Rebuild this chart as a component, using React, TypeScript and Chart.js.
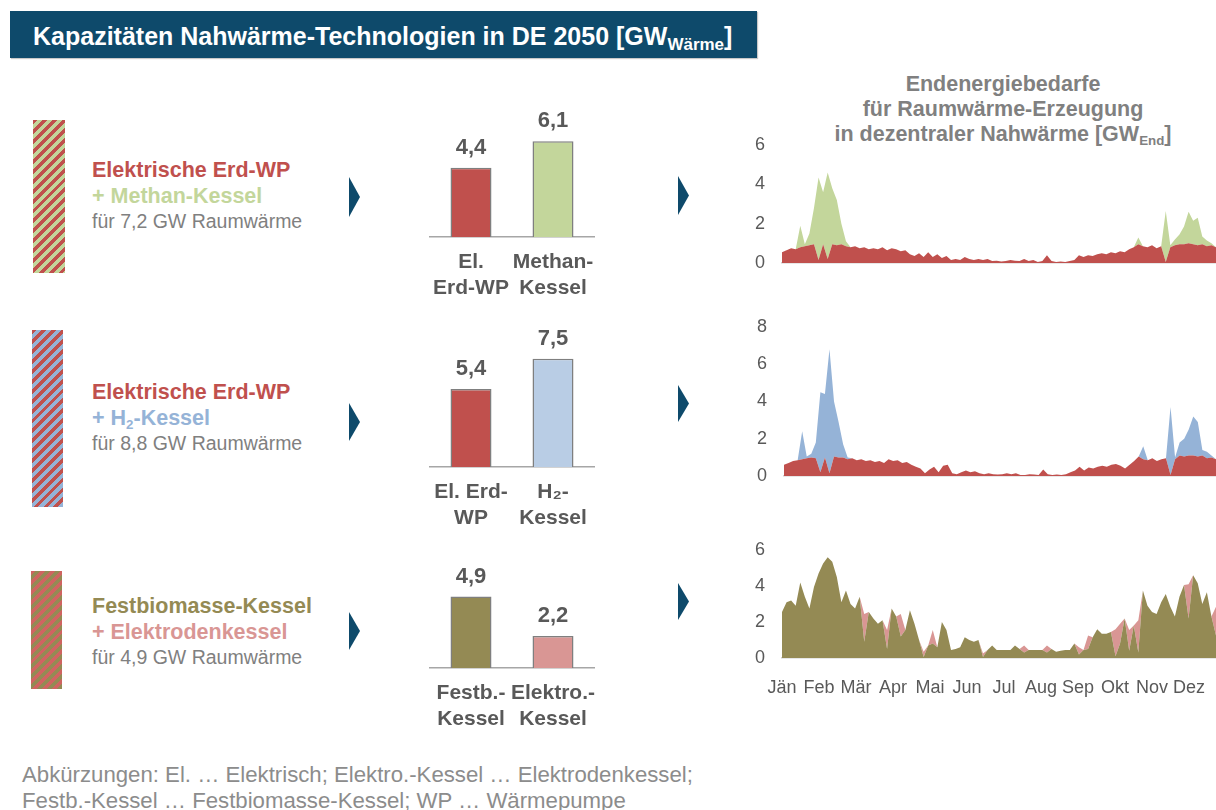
import React, { useEffect, useRef } from "react";
import { Chart, registerables } from "chart.js";

Chart.register(...registerables);

const FONT = '"Liberation Sans", Arial, Helvetica, sans-serif';

// ---------- Bar chart data ----------
const bar1Labels = [["El.", "Erd-WP"], ["Methan-", "Kessel"]];
const bar1Values = [4.4, 6.1];
const bar2Labels = [["El. Erd-", "WP"], ["H₂-", "Kessel"]];
const bar2Values = [5.4, 7.5];
const bar3Labels = [["Festb.-", "Kessel"], ["Elektro.-", "Kessel"]];
const bar3Values = [4.9, 2.2];

// ---------- Area chart data (GW, ~every 3.8 days through the year) ----------
const months = ["Jän", "Feb", "Mär", "Apr", "Mai", "Jun", "Jul", "Aug", "Sep", "Okt", "Nov", "Dez"];

const erdWp1 = [
  0.55, 0.65, 0.75, 0.7, 0.8, 0.85, 0.9, 0.95, 0.15, 0.95, 0.2, 0.95, 0.9, 0.95, 0.85, 0.8,
  0.85, 0.75, 0.8, 0.7, 0.75, 0.7, 0.8, 0.65, 0.75, 0.7, 0.6, 0.65, 0.45, 0.35, 0.5, 0.3,
  0.55, 0.3, 0.45, 0.25, 0.35, 0.15, 0.2, 0.15, 0.3, 0.2, 0.15, 0.2, 0.15, 0.2, 0.1, 0.12,
  0.08, 0.1, 0.15, 0.12, 0.1, 0.2, 0.1, 0.15, 0.05, 0.1, 0.4, 0.1, 0.05, 0.08, 0.05, 0.1,
  0.15, 0.4, 0.3, 0.4, 0.35, 0.45, 0.5, 0.45, 0.55, 0.5, 0.6, 0.55, 0.7, 0.8, 0.95, 0.85,
  0.8, 0.9, 0.75, 0.85, 0.05, 0.8, 0.9, 0.95, 0.95, 1.0, 0.95, 0.9, 0.95, 0.85, 0.9, 0.8,
];
const methan1 = [
  0, 0, 0, 0, 1.1, 0.1, 0.6, 1.85, 4.2, 2.65, 4.4, 2.85, 2.3, 1.05, 0.25, 0,
  0, 0, 0, 0, 0, 0, 0, 0, 0, 0, 0, 0, 0, 0, 0, 0,
  0, 0, 0, 0, 0, 0, 0, 0, 0, 0, 0, 0, 0, 0, 0, 0,
  0, 0, 0, 0, 0, 0, 0, 0, 0, 0, 0, 0, 0, 0, 0, 0,
  0, 0, 0, 0, 0, 0, 0, 0, 0, 0, 0, 0, 0, 0, 0.35, 0,
  0, 0, 0, 0, 2.6, 0.1, 0.3, 0.5, 0.9, 1.6, 1.2, 1.4, 0.4, 0.3, 0.1, 0,
];

const erdWp2 = [
  0.6, 0.7, 0.8, 0.85, 0.9, 0.95, 1.0, 0.95, 0.2, 1.0, 0.15, 1.05, 1.0, 1.0, 0.9, 0.95,
  0.85, 0.9, 0.8, 0.85, 0.75, 0.8, 0.7, 0.9, 0.8, 0.85, 0.7, 0.75, 0.6, 0.5, 0.4, 0.15,
  0.35, 0.5, 0.2, 0.55, 0.6, 0.15, 0.1, 0.2, 0.3, 0.2, 0.25, 0.15, 0.1, 0.15, 0.1, 0.08,
  0.1, 0.15, 0.1, 0.15, 0.05, 0.05, 0.1, 0.08, 0.05, 0.35, 0.1, 0.05, 0.08, 0.05, 0.1, 0.2,
  0.3, 0.5, 0.3, 0.45, 0.4, 0.5, 0.55, 0.5, 0.6, 0.65, 0.55, 0.4, 0.6, 0.8, 1.05, 0.9,
  0.85, 0.95, 0.8, 0.9, 0.95, 0.05, 0.9, 1.1, 1.05, 1.1, 1.1, 1.05, 1.1, 0.95, 1.0, 0.9,
];
const h2Kessel2 = [
  0, 0, 0, 0, 1.5, 0.1, 0.2, 0.85, 4.3, 3.4, 6.65, 2.95, 1.9, 0.7, 0.1, 0,
  0, 0, 0, 0, 0, 0, 0, 0, 0, 0, 0, 0, 0, 0, 0, 0,
  0, 0, 0, 0, 0, 0, 0, 0, 0, 0, 0, 0, 0, 0, 0, 0,
  0, 0, 0, 0, 0, 0, 0, 0, 0, 0, 0, 0, 0, 0, 0, 0,
  0, 0, 0, 0, 0, 0, 0, 0, 0, 0, 0, 0, 0, 0, 0, 0.7,
  0, 0, 0, 0, 0, 3.65, 0.1, 0.7, 0.95, 1.4, 2.1, 1.85, 0.3, 0.35, 0.1, 0,
];

const biomasse3 = [
  2.55, 3.1, 3.2, 2.9, 4.2, 3.4, 2.75, 3.95, 4.7, 5.25, 5.6, 5.35, 4.5, 3.1, 3.75, 3.0,
  2.75, 3.4, 0.9, 2.55, 2.2, 1.9, 2.1, 0.5, 2.75, 2.3, 1.2, 1.55, 2.65, 1.9, 1.0, 0.05,
  0.7, 0.8, 0.6, 2.0, 1.55, 0.45, 0.5, 0.6, 1.15, 1.0, 0.9, 1.0, 0.05, 0.45, 0.7, 0.45,
  0.45, 0.45, 0.45, 0.7, 0.5, 0.3, 0.45, 0.45, 0.45, 0.45, 0.3, 0.5, 0.35, 0.4, 0.45, 0.45,
  0.8, 0.2, 0.45, 0.5, 1.15, 1.6, 1.35, 1.35, 1.45, 0.1, 0.8, 2.2, 0.4, 1.8, 0.3, 3.75,
  2.9, 2.55, 2.45, 3.1, 3.55, 2.85, 2.3, 3.4, 4.05, 2.2, 4.6, 4.15, 3.0, 3.65, 2.3, 1.25,
];
const elektroden3 = [
  0, 0, 0, 0, 0, 0, 0, 0, 0, 0, 0, 0, 0, 0, 0, 0,
  0, 0, 1.55, 0, 0, 0, 0, 1.05, 0, 0, 1.25, 0, 0, 0, 0, 0.3,
  0, 0.75, 0, 0, 0, 0, 0, 0, 0, 0, 0, 0, 0.2, 0, 0, 0,
  0, 0, 0, 0, 0, 0.4, 0, 0, 0, 0, 0.4, 0, 0, 0, 0, 0,
  0, 0.4, 0, 0.75, 0, 0, 0, 0, 0, 1.5, 1.1, 0, 1.15, 0, 1.8, 0,
  0, 0, 0, 0, 0, 0, 0, 0, 0, 1.9, 0, 0, 0, 0, 0, 1.6,
];

// ---------- Colours ----------
const RED = "#C0504D";
const GREEN = "#C3D69B";
const BLUE_BAR = "#B9CDE5";
const BLUE = "#95B3D7";
const OLIVE = "#948A54";
const PINK = "#D99694";
const NAVY = "#0E4A6B";
const DARK = "#595959";
const GREY = "#808080";

const MONTH_STEP = 8.1; // month label spacing in sample units

const valueLabels = {
  id: "valueLabels",
  afterDatasetsDraw(chart: any) {
    const ctx = chart.ctx;
    const meta = chart.getDatasetMeta(0);
    ctx.save();
    ctx.font = `bold 22px ${FONT}`;
    ctx.fillStyle = DARK;
    ctx.textAlign = "center";
    ctx.textBaseline = "middle";
    meta.data.forEach((el: any, i: number) => {
      const v = chart.data.datasets[0].data[i] as number;
      ctx.fillText(v.toFixed(1).replace(".", ","), el.x, el.y - 20);
    });
    ctx.restore();
  },
};

function BarPanel(props: {
  left: number; baseline: number; labels: string[][]; values: number[]; colors: string[];
  yMax: number; areaH: number;
}) {
  const ref = useRef<HTMLCanvasElement>(null);
  const padTop = 40;
  const xAxisH = 66;
  const width = 230;
  const top = props.baseline - props.areaH - padTop;
  const height = padTop + props.areaH + xAxisH;
  useEffect(() => {
    const chart = new Chart(ref.current as HTMLCanvasElement, {
      type: "bar",
      data: {
        labels: props.labels as any,
        datasets: [{
          data: props.values,
          backgroundColor: props.colors,
          borderColor: "#7F7F7F",
          borderWidth: 1.5,
          barPercentage: 0.5,
          categoryPercentage: 1,
        }],
      },
      options: {
        animation: false,
        responsive: false,
        devicePixelRatio: 1,
        layout: { padding: { top: padTop, left: 30, right: 36, bottom: 0 } },
        plugins: { legend: { display: false }, tooltip: { enabled: false } },
        scales: {
          x: {
            grid: { display: false, drawTicks: false },
            border: { display: true, color: "#A6A6A6", width: 1.5 },
            ticks: {
              color: DARK,
              font: { family: FONT, size: 21, weight: "bold", lineHeight: 26 / 21 },
              padding: 12,
              maxRotation: 0,
              autoSkip: false,
            },
            afterFit: (s: any) => { s.height = xAxisH; },
          },
          y: { display: false, min: 0, max: props.yMax },
        },
      },
      plugins: [valueLabels],
    } as any);
    return () => chart.destroy();
  }, []);
  return (
    <canvas ref={ref} width={width} height={height}
      style={{ position: "absolute", left: props.left, top, width, height }} />
  );
}

function AreaPanel(props: {
  top: number; yAxisW: number; yMax: number; areaH: number; xAxisH: number;
  base: number[]; stack: number[]; c1: string; c2: string; showMonths: boolean;
}) {
  const ref = useRef<HTMLCanvasElement>(null);
  const padTop = 14;
  const left = 740;
  const width = 476;
  const height = padTop + props.areaH + props.xAxisH;
  useEffect(() => {
    const n = props.base.length;
    const chart = new Chart(ref.current as HTMLCanvasElement, {
      type: "line",
      data: {
        datasets: [
          {
            data: props.base.map((y, i) => ({ x: i, y })),
            backgroundColor: props.c1, borderWidth: 0, pointRadius: 0, fill: "origin", tension: 0,
          },
          {
            data: props.stack.map((y, i) => ({ x: i, y })),
            backgroundColor: props.c2, borderWidth: 0, pointRadius: 0, fill: "-1", tension: 0,
          },
        ],
      },
      options: {
        animation: false,
        responsive: false,
        devicePixelRatio: 1,
        layout: { padding: { top: padTop, left: 0, right: 0, bottom: 0 } },
        plugins: { legend: { display: false }, tooltip: { enabled: false } },
        scales: {
          x: {
            type: "linear",
            min: 0,
            max: n - 1,
            grid: { display: false, drawTicks: false },
            border: { display: true, color: "#D0D0D0", width: 1.5 },
            afterBuildTicks: (s: any) => {
              s.ticks = months.map((_, m) => ({ value: m * MONTH_STEP }));
            },
            ticks: {
              display: props.showMonths,
              color: DARK,
              font: { family: FONT, size: 18 },
              padding: 19,
              maxRotation: 0,
              autoSkip: false,
              callback: (_v: any, i: number) => months[i],
            },
            afterFit: (s: any) => {
              s.height = props.xAxisH;
              s.paddingLeft = 0;
              s.paddingRight = 0;
            },
          },
          y: {
            stacked: true,
            min: 0,
            max: props.yMax,
            ticks: { stepSize: 2, color: DARK, font: { family: FONT, size: 18 }, padding: 17 },
            grid: { display: false, drawTicks: false },
            border: { display: false },
            afterFit: (s: any) => {
              s.width = props.yAxisW;
              s.paddingTop = 0;
              s.paddingBottom = 0;
            },
          },
        },
      },
    } as any);
    return () => chart.destroy();
  }, []);
  return (
    <canvas ref={ref} width={width} height={height}
      style={{ position: "absolute", left, top: props.top - padTop, width, height }} />
  );
}

function Txt(props: { x: number; y: number; size: number; bold?: boolean; color: string; children: any; center?: boolean }) {
  const h = 30;
  return (
    <div style={{
      position: "absolute",
      left: props.center ? props.x - 300 : props.x,
      width: props.center ? 600 : undefined,
      textAlign: props.center ? "center" : "left",
      top: props.y - h / 2,
      height: h,
      lineHeight: `${h}px`,
      fontSize: props.size,
      fontWeight: props.bold ? "bold" : "normal",
      color: props.color,
      whiteSpace: "nowrap",
    }}>{props.children}</div>
  );
}

function Hatch(props: { x: number; y: number; w: number; h: number; a: string; b: string }) {
  return (
    <div style={{
      position: "absolute", left: props.x, top: props.y, width: props.w, height: props.h,
      background: `repeating-linear-gradient(135deg, ${props.a} 0px, ${props.a} 3.4px, ${props.b} 3.4px, ${props.b} 7px)`,
    }} />
  );
}

function Arrow(props: { x: number; y: number; h: number }) {
  return (
    <svg style={{ position: "absolute", left: props.x, top: props.y }} width={11} height={props.h}>
      <polygon points={`0,0 11,${props.h / 2} 0,${props.h}`} fill={NAVY} />
    </svg>
  );
}

export default function App() {
  const sub = { fontSize: "0.62em", verticalAlign: "-0.3em" } as React.CSSProperties;
  const subT = { fontSize: "0.68em", verticalAlign: "-0.3em" } as React.CSSProperties;
  return (
    <div style={{
      position: "fixed", left: 0, top: 0, width: 1216, height: 810, background: "#fff",
      fontFamily: FONT, overflow: "hidden",
    }}>
      {/* Title bar */}
      <div style={{
        position: "absolute", left: 10, top: 11, width: 747, height: 47, background: NAVY,
        boxShadow: "1px 1px 1px #c8c8c8",
      }} />
      <Txt x={33} y={36} size={25} bold color="#FFFFFF">
        Kapazitäten Nahwärme-Technologien in DE 2050 [GW<span style={subT}>Wärme</span>]
      </Txt>

      {/* Left descriptions */}
      <Hatch x={33} y={120} w={32} h={153} a={RED} b={GREEN} />
      <Txt x={92} y={170} size={21.5} bold color={RED}>Elektrische Erd-WP</Txt>
      <Txt x={92} y={196} size={21.5} bold color={GREEN}>+ Methan-Kessel</Txt>
      <Txt x={92} y={221} size={19.5} color={GREY}>für 7,2 GW Raumwärme</Txt>

      <Hatch x={32} y={330} w={31} h={177} a={RED} b={BLUE} />
      <Txt x={92} y={392} size={21.5} bold color={RED}>Elektrische Erd-WP</Txt>
      <Txt x={92} y={418} size={21.5} bold color={BLUE}>+ H<span style={sub}>2</span>-Kessel</Txt>
      <Txt x={92} y={443} size={19.5} color={GREY}>für 8,8 GW Raumwärme</Txt>

      <Hatch x={31} y={571} w={31} h={118} a="#CF6461" b={OLIVE} />
      <Txt x={92} y={606} size={21.5} bold color={OLIVE}>Festbiomasse-Kessel</Txt>
      <Txt x={92} y={632} size={21.5} bold color={PINK}>+ Elektrodenkessel</Txt>
      <Txt x={92} y={657} size={19.5} color={GREY}>für 4,9 GW Raumwärme</Txt>

      {/* Arrows */}
      <Arrow x={349} y={177} h={40} />
      <Arrow x={678} y={176} h={39} />
      <Arrow x={349} y={403} h={38} />
      <Arrow x={678} y={385} h={37} />
      <Arrow x={349} y={612} h={38} />
      <Arrow x={678} y={583} h={37} />

      {/* Bar charts */}
      <BarPanel left={400} baseline={237} labels={bar1Labels} values={bar1Values}
        colors={[RED, GREEN]} yMax={7} areaH={110} />
      <BarPanel left={400} baseline={467} labels={bar2Labels} values={bar2Values}
        colors={[RED, BLUE_BAR]} yMax={9} areaH={130} />
      <BarPanel left={400} baseline={668} labels={bar3Labels} values={bar3Values}
        colors={[OLIVE, PINK]} yMax={7} areaH={102} />

      {/* Area chart title */}
      <Txt x={1003} y={84} size={21.5} bold color={GREY} center>Endenergiebedarfe</Txt>
      <Txt x={1003} y={109} size={21.5} bold color={GREY} center>für Raumwärme-Erzeugung</Txt>
      <Txt x={1003} y={134} size={21.5} bold color={GREY} center>
        in dezentraler Nahwärme [GW<span style={sub}>End</span>]
      </Txt>

      {/* Area charts */}
      <AreaPanel top={145} yAxisW={42} yMax={6} areaH={118} xAxisH={14}
        base={erdWp1} stack={methan1} c1={RED} c2={GREEN} showMonths={false} />
      <AreaPanel top={327} yAxisW={44} yMax={8} areaH={149} xAxisH={14}
        base={erdWp2} stack={h2Kessel2} c1={RED} c2={BLUE} showMonths={false} />
      <AreaPanel top={550} yAxisW={42} yMax={6} areaH={108} xAxisH={45}
        base={biomasse3} stack={elektroden3} c1={OLIVE} c2={PINK} showMonths={true} />

      {/* Footnote */}
      <Txt x={22} y={775} size={22.2} color="#8C8C8C">
        Abkürzungen: El. … Elektrisch; Elektro.-Kessel … Elektrodenkessel;
      </Txt>
      <Txt x={22} y={801} size={22.2} color="#8C8C8C">
        Festb.-Kessel … Festbiomasse-Kessel; WP … Wärmepumpe
      </Txt>
    </div>
  );
}
